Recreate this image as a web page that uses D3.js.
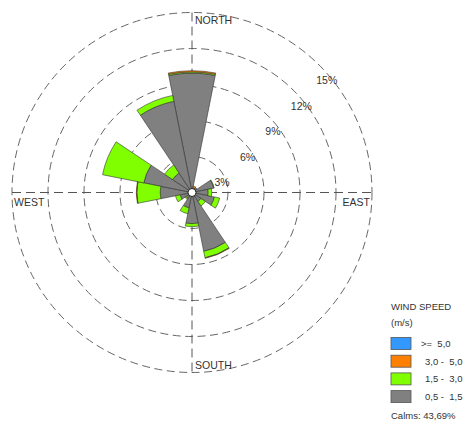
<!DOCTYPE html>
<html>
<head>
<meta charset="utf-8">
<script src="https://cdn.jsdelivr.net/npm/d3@7"></script>
<style>
  body { margin: 0; background: #fff; }
  text { font-family: "Liberation Sans", Arial, sans-serif; fill: #333; }
</style>
</head>
<body>
<div id="chart"></div>
<script>
// directions, clockwise from north
var directions = ["N","NNE","NE","ENE","E","ESE","SE","SSE","S","SSW","SW","WSW","W","WNW","NW","NNW"];

// frequency (%) per speed class
var speed05_15 = [9.95, 0.4, 0.5, 1.85, 1.35, 1.9, 0.9, 5.0, 2.6, 1.3, 0.6, 1.0, 2.65, 4.1, 1.95, 7.75];
var speed15_30 = [0.1, 0, 0, 0.03, 0.3, 0.45, 0.45, 0.55, 0.25, 0.5, 0.1, 0.4, 1.95, 3.5, 0.8, 0.5];
var speed30_50 = [0.1, 0.15, 0, 0, 0, 0, 0, 0.04, 0, 0, 0, 0, 0.04, 0, 0, 0];
var speed50_up = [0, 0, 0, 0, 0, 0, 0, 0, 0, 0, 0, 0, 0, 0, 0, 0];

var ringTicks = [3, 6, 9, 12, 15];
var speedClasses = ["0,5 -  1,5", "1,5 -  3,0", "3,0 -  5,0", ">=  5,0"];
var speedColors = ["#808080", "#80ff00", "#ff8000", "#3399ff"];
var calms = "43,69%";

var width = 467, height = 421;
var cx = 192, cy = 192.5;

var svg = d3.select("#chart").append("svg")
	.attr("width", width)
	.attr("height", height);

var r = d3.scaleLinear().domain([0, 15]).range([0, 180]);

var table = directions.map(function(d, i) {
	return { dir: d, i: i, s0: speed05_15[i], s1: speed15_30[i], s2: speed30_50[i], s3: speed50_up[i] };
});
var stack = d3.stack().keys(["s0", "s1", "s2", "s3"]);
var series = stack(table);

var g = svg.append("g").attr("transform", "translate(" + cx + "," + cy + ")");

// dashed rings
g.append("g").selectAll("circle")
	.data(ringTicks)
	.enter().append("circle")
		.attr("r", function(d) { return r(d); })
		.attr("fill", "none")
		.attr("stroke", "#666")
		.attr("stroke-width", 1)
		.attr("stroke-dasharray", "8,4.5");

// cross lines
var R = r(15);
g.append("line").attr("x1", 0).attr("x2", 0).attr("y1", -R).attr("y2", R)
	.attr("stroke", "#555").attr("stroke-dasharray", "9,5");
g.append("line").attr("x1", -R).attr("x2", R).attr("y1", 0).attr("y2", 0)
	.attr("stroke", "#555").attr("stroke-dasharray", "9,5");

// wedges
var step = 2 * Math.PI / directions.length;
var arc = d3.arc()
	.innerRadius(function(d) { return r(d[0]); })
	.outerRadius(function(d) { return r(d[1]); })
	.startAngle(function(d) { return d.data.i * step - step / 2; })
	.endAngle(function(d) { return d.data.i * step + step / 2; });

g.append("g").selectAll("g")
	.data(series)
	.enter().append("g")
		.attr("fill", function(d, k) { return speedColors[k]; })
	.selectAll("path")
	.data(function(d) { return d.filter(function(p) { return p[1] - p[0] > 0; }); })
	.enter().append("path")
		.attr("d", arc)
		.attr("stroke", "#333")
		.attr("stroke-width", 0.6);

// calm hole
g.append("circle").attr("r", 4).attr("fill", "#fff").attr("stroke", "#222").attr("stroke-width", 1);

// ring labels
g.append("g").selectAll("text")
	.data(ringTicks)
	.enter().append("text")
		.attr("x", function(d) { return r(d) * Math.SQRT1_2 - 3; })
		.attr("y", function(d) { return -r(d) * Math.SQRT1_2 + 19; })
		.style("font-size", "10.5px")
		.text(function(d) { return d + "%"; });

// compass labels
g.append("text").attr("x", 3).attr("y", -R + 11.5).style("font-size", "10.5px").text("NORTH");
g.append("text").attr("x", 3).attr("y", R - 3.5).style("font-size", "10.5px").text("SOUTH");
g.append("text").attr("x", -R + 2).attr("y", 13).style("font-size", "10.5px").text("WEST");
g.append("text").attr("x", R - 2).attr("y", 13).attr("text-anchor", "end").style("font-size", "10.5px").text("EAST");

// legend
var legend = svg.append("g").attr("transform", "translate(391,0)");
legend.append("text").attr("x", 0).attr("y", 310).style("font-size", "9.5px").text("WIND SPEED");
legend.append("text").attr("x", 0).attr("y", 326).style("font-size", "9.5px").text("(m/s)");

var legendOrder = [3, 2, 1, 0];
var items = legend.selectAll("g.item")
	.data(legendOrder)
	.enter().append("g")
		.attr("class", "item")
		.attr("transform", function(d, j) { return "translate(0," + (337.5 + j * 17.7) + ")"; });

items.append("rect")
	.attr("width", 20).attr("height", 12)
	.attr("fill", function(d) { return speedColors[d]; })
	.attr("stroke", "#555").attr("stroke-width", 0.8);

items.append("text")
	.attr("x", function(d) { return d === 3 ? 30 : 34; })
	.attr("y", 9.5)
	.style("font-size", "9.5px")
	.style("white-space", "pre")
	.text(function(d) { return speedClasses[d]; });

legend.append("text").attr("x", 0).attr("y", 419).style("font-size", "9.5px").text("Calms: " + calms);
</script>
</body>
</html>
